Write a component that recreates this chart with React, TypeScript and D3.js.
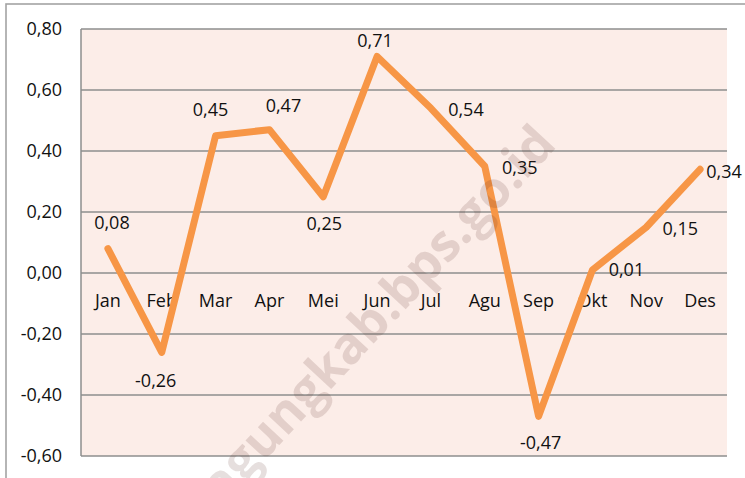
import React from 'react'
import * as d3 from 'd3'

// data
const months = ['Jan', 'Feb', 'Mar', 'Apr', 'Mei', 'Jun', 'Jul', 'Agu', 'Sep', 'Okt', 'Nov', 'Des']
const values = [0.08, -0.26, 0.45, 0.47, 0.25, 0.71, 0.54, 0.35, -0.47, 0.01, 0.15, 0.34]
const yTicks = [-0.6, -0.4, -0.2, 0, 0.2, 0.4, 0.6, 0.8]
const watermark = 'tulungagungkab.bps.go.id'

// where each value label sits relative to its point
const labelOffsets: [number, number][] = [
  [4, -26], [-6, 28], [-5, -26], [14, -24], [1, 27], [-2, -16],
  [35, 1], [35, 1], [2, 26], [34, 0], [34, 1], [24, 2]
]

const W = 745
const H = 478
const left = 81
const right = 727
const top = 29
const bottom = 456
const font = '"Open Sans", "Noto Sans", sans-serif'

const loc = d3.formatLocale({ decimal: ',', thousands: '.', grouping: [3], currency: ['', ''], minus: '-' })
const fmt = loc.format('.2f')

export default function App () {
  const x = d3.scaleBand<string>().domain(months).range([left, right]).padding(0)
  const y = d3.scaleLinear().domain([-0.6, 0.8]).range([bottom, top])
  const cx = (m: string) => (x(m) as number) + x.bandwidth() / 2

  const line = d3.line<number>()
    .x((d, i) => cx(months[i]))
    .y(d => y(d))

  return (
    <svg width={W} height={H} style={{ position: 'absolute', left: 0, top: 0 }} fontFamily={font}>
      <rect x={0} y={0} width={W} height={H} fill='#fff' />
      <rect x={6} y={4} width={W + 20} height={H + 20} fill='none' stroke='#a3a3a3' strokeWidth={1.6} />
      <rect x={left} y={top} width={right - left} height={bottom - top} fill='#fcede8' />

      {yTicks.map(t => (
        <g key={t}>
          <line x1={left} x2={right} y1={y(t)} y2={y(t)} stroke='#8e8e8e' strokeWidth={1.5} />
          <text x={62} y={y(t)} dy='0.35em' textAnchor='end' fontSize={18} fill='#111'>{fmt(t)}</text>
        </g>
      ))}
      <line x1={left} x2={left} y1={top} y2={bottom} stroke='#8e8e8e' strokeWidth={1.5} />

      {months.map(m => (
        <text key={m} x={cx(m)} y={y(0) + 28} dy='0.35em' textAnchor='middle' fontSize={18} fill='#111'>{m}</text>
      ))}

      <path d={line(values) || ''} fill='none' stroke='#f79646' strokeWidth={7}
        strokeLinejoin='round' strokeLinecap='round' />

      {values.map((v, i) => (
        <text key={i} x={cx(months[i]) + labelOffsets[i][0]} y={y(v) + labelOffsets[i][1]}
          dy='0.35em' textAnchor='middle' fontSize={18} fill='#111'>{fmt(v)}</text>
      ))}

      <text transform='translate(558,146) rotate(-47)' textAnchor='end' fontSize={51}
        fontWeight='bold' fill='#5a2a22' fillOpacity={0.15}>{watermark}</text>
    </svg>
  )
}
